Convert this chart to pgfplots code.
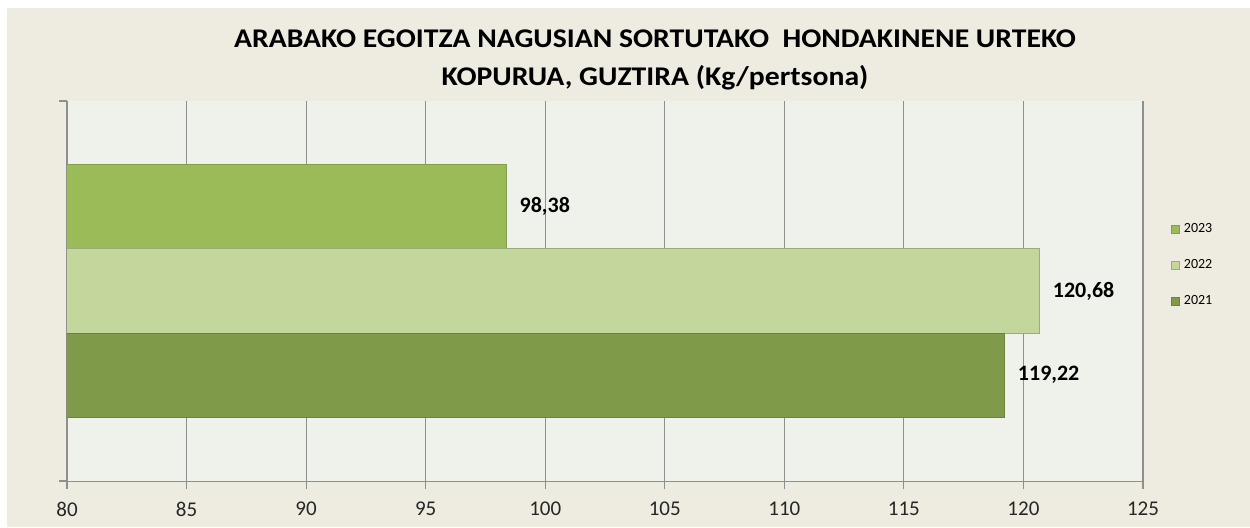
\documentclass[border=0pt]{standalone}
\usepackage{pgfplots}
\pgfplotsset{compat=1.18}
\usepackage{fontspec}
\setmainfont{Carlito}

\definecolor{chartbg}{HTML}{EEECE1}
\definecolor{plotbg}{HTML}{EFF2EA}
\definecolor{gridgray}{HTML}{8F8F8F}
\definecolor{y2023}{HTML}{9BBB59}
\definecolor{y2022}{HTML}{C3D69B}
\definecolor{y2021}{HTML}{7F9A48}

\begin{document}
\begin{tikzpicture}
  % 1 px of the reference = 0.5pt, origin at the axis' lower left corner
  \fill[white] (-33.5pt,-23pt) rectangle (591.5pt,240.5pt);
  \fill[chartbg] (-30pt,-23pt) rectangle (591.5pt,236.5pt);

  \node[anchor=base, font=\fontsize{13.5}{15}\selectfont\bfseries] at (294pt,217pt)
    {\scalebox{1.1}[1]{ARABAKO EGOITZA NAGUSIAN SORTUTAKO\ \ HONDAKINENE URTEKO}};
  \node[anchor=base, font=\fontsize{13.5}{15}\selectfont\bfseries] at (294pt,198pt)
    {\scalebox{1.1}[1]{KOPURUA, GUZTIRA (Kg/pertsona)}};

  \begin{axis}[
    scale only axis,
    width = 538pt,
    height = 190pt,
    xbar,
    xmin = 80, xmax = 125,
    ymin = -0.255, ymax = 4.255,
    xtick = {80, 85, ..., 125},
    ytick = {-0.255, 4.255},
    yticklabels = {},
    axis x line = bottom,
    axis y line = left,
    axis line style = {gridgray, -},
    tick style = {gridgray, line width=0.6pt},
    tick align = outside,
    major tick length = 4pt,
    xmajorgrids,
    grid style = {gridgray, line width=0.6pt},
    axis background/.style = {fill=plotbg},
    /pgf/number format/assume math mode=true,
    ticklabel style = {font=\fontsize{10.5}{12}\selectfont, text=black!85},
    xticklabel style = {yshift=-3pt},
    bar width = 1,
    nodes near coords,
    nodes near coords align = horizontal,
    nodes near coords style = {font=\fontsize{11}{12}\selectfont\bfseries,
      xshift=3pt,
      /pgf/number format/fixed, /pgf/number format/precision=2,
      /pgf/number format/zerofill, /pgf/number format/use comma,
      /pgf/number format/assume math mode=true},
    legend style = {at={(1.02,0.70)}, anchor=north west, draw=none, fill=none,
      font=\fontsize{7}{8}\selectfont, row sep=8pt,
      /tikz/every even column/.append style={column sep=1pt}},
    legend image code/.code = {\draw[#1] (0pt,-2pt) rectangle (4pt,2pt);},
    ]
    \addplot[bar shift=0pt, fill=y2023, draw=y2023!85!black, line width=0.5pt]
      coordinates {(98.38, 3)};
    \addlegendentry{2023}
    \addplot[bar shift=0pt, fill=y2022, draw=y2022!80!black, line width=0.5pt]
      coordinates {(120.68, 2)};
    \addlegendentry{2022}
    \addplot[bar shift=0pt, fill=y2021, draw=y2021!85!black, line width=0.5pt]
      coordinates {(119.22, 1)};
    \addlegendentry{2021}
  \end{axis}

  \pgfresetboundingbox
  \useasboundingbox (-33.5pt,-23pt) rectangle (591.5pt,240.5pt);
\end{tikzpicture}
\end{document}
